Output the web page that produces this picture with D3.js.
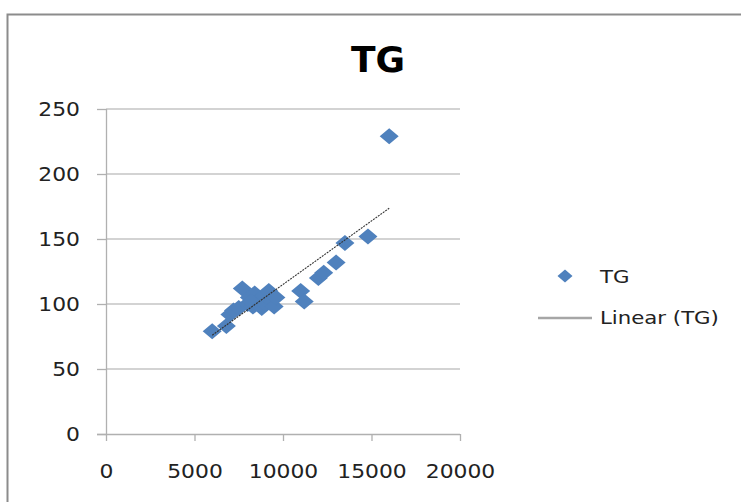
<!DOCTYPE html>
<html>
<head>
<meta charset="utf-8">
<script src="https://cdn.jsdelivr.net/npm/d3@7"></script>
<style>
  body { margin: 0; background: #fff; }
  svg { font-family: "DejaVu Sans", sans-serif; }
</style>
</head>
<body>
<script>
// values
var seriesName = 'TG';
var xValues = [6000, 6800, 7000, 7200, 7500, 7700, 8000, 8100, 8300, 8400, 8600, 8800, 8900, 9000,
               9200, 9300, 9500, 9600, 8200, 11000, 11200, 12000, 12300, 13000, 13500, 14800, 16000];
var yValues = [79, 83, 92, 95, 97, 112, 100, 105, 98, 108, 102, 97, 106, 100,
               110, 103, 98, 105, 102, 110, 102, 120, 124, 132, 147, 152, 229];
var xTicks = [0, 5000, 10000, 15000, 20000];
var yTicks = [0, 50, 100, 150, 200, 250];

var width = 741, height = 502;
var stretch = 1.15; // the text in the picture is a little wide

var svg = d3.select('body').append('svg')
  .attr('width', width)
  .attr('height', height);

// chart area border (runs off the right and bottom)
svg.append('rect')
  .attr('x', 7.5).attr('y', 14.5)
  .attr('width', 800).attr('height', 600)
  .attr('fill', 'none')
  .attr('stroke', '#8c8c8c')
  .attr('stroke-width', 2);

var xScale = d3.scaleLinear().domain([0, 20000]).range([106, 460]);
var yScale = d3.scaleLinear().domain([0, 250]).range([434, 109]);

// gridlines
svg.append('g')
  .selectAll('line')
  .data(yTicks.filter(function(d) { return d > 0; }))
  .enter().append('line')
    .attr('x1', xScale(0)).attr('x2', xScale(20000))
    .attr('y1', function(d) { return yScale(d); })
    .attr('y2', function(d) { return yScale(d); })
    .attr('stroke', '#c4c4c4')
    .attr('stroke-width', 1.3);

var xAxis = svg.append('g')
  .attr('transform', 'translate(0,' + yScale(0) + ')')
  .call(d3.axisBottom(xScale).tickValues(xTicks).tickSize(7).tickFormat(d3.format('d')));

var yAxis = svg.append('g')
  .attr('transform', 'translate(' + xScale(0) + ',0)')
  .call(d3.axisLeft(yScale).tickValues(yTicks).tickSize(9));

[xAxis, yAxis].forEach(function(a) {
  a.select('.domain').attr('stroke', '#b0b0b0').attr('stroke-width', 1.3);
  a.selectAll('.tick line').attr('stroke', '#b0b0b0').attr('stroke-width', 1.3);
  a.selectAll('.tick text')
    .attr('fill', '#222')
    .style('font-size', '19px')
    .style('font-family', '"DejaVu Sans", sans-serif');
});
xAxis.selectAll('.tick text')
  .attr('y', 44).attr('dy', 0)
  .attr('transform', 'scale(' + stretch + ',1)');
yAxis.selectAll('.tick text')
  .attr('x', -26 / stretch)
  .attr('transform', 'scale(' + stretch + ',1)');
yAxis.select('.domain').attr('d', 'M0.5,' + yScale(250) + 'V' + yScale(0));
xAxis.select('.domain').attr('d', 'M' + (xScale(0) - 9) + ',0.5H' + xScale(20000));

// points: wide diamonds
function diamond(w, h) {
  return 'M0,' + (-h) + 'L' + w + ',0L0,' + h + 'L' + (-w) + ',0Z';
}
var points = xValues.map(function(x, i) { return { x: x, y: yValues[i] }; });

svg.append('g')
  .selectAll('path')
  .data(points)
  .enter().append('path')
    .attr('d', diamond(9.5, 8))
    .attr('transform', function(d) { return 'translate(' + xScale(d.x) + ',' + yScale(d.y) + ')'; })
    .attr('fill', '#4f81bd');

// linear trendline from least squares
var mx = d3.mean(xValues), my = d3.mean(yValues);
var sxy = d3.sum(points, function(d) { return (d.x - mx) * (d.y - my); });
var sxx = d3.sum(points, function(d) { return (d.x - mx) * (d.x - mx); });
var slope = sxy / sxx, icept = my - slope * mx;
var xExt = d3.extent(xValues);

svg.append('line')
  .attr('x1', xScale(xExt[0])).attr('y1', yScale(icept + slope * xExt[0]))
  .attr('x2', xScale(xExt[1])).attr('y2', yScale(icept + slope * xExt[1]))
  .attr('stroke', '#333')
  .attr('stroke-width', 1.1)
  .attr('stroke-dasharray', '2,1');

// title
svg.append('text')
  .attr('x', 378).attr('y', 72)
  .attr('text-anchor', 'middle')
  .style('font-size', '36px')
  .style('font-weight', 'bold')
  .attr('fill', '#000')
  .text(seriesName);

// legend
var legend = svg.append('g');
legend.append('path')
  .attr('d', diamond(7.5, 6.5))
  .attr('transform', 'translate(565,276)')
  .attr('fill', '#4f81bd');
legend.append('text')
  .attr('transform', 'translate(600,283) scale(' + stretch + ',1)')
  .style('font-size', '18.5px').attr('fill', '#222')
  .text(seriesName);
legend.append('line')
  .attr('x1', 538).attr('x2', 592)
  .attr('y1', 318).attr('y2', 318)
  .attr('stroke', '#a6a6a6').attr('stroke-width', 2.5);
legend.append('text')
  .attr('transform', 'translate(600,324) scale(' + stretch + ',1)')
  .style('font-size', '18.5px').attr('fill', '#222')
  .text('Linear (' + seriesName + ')');
</script>
</body>
</html>
